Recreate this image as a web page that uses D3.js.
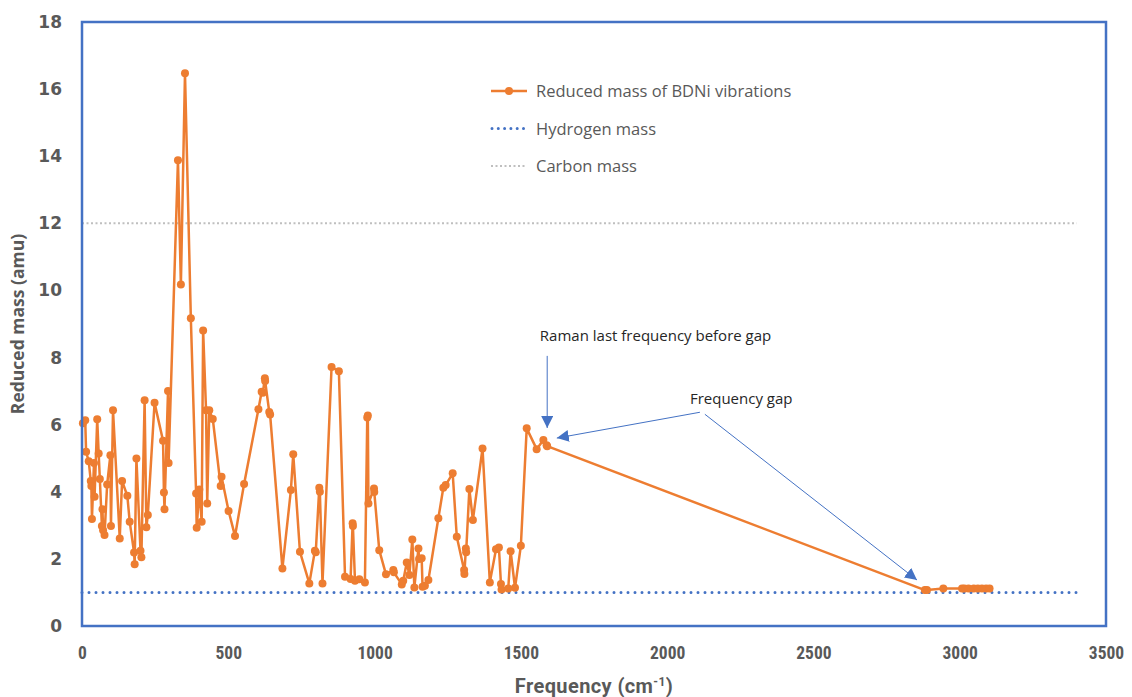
<!DOCTYPE html>
<html>
<head>
<meta charset="utf-8">
<script src="https://cdn.jsdelivr.net/npm/d3@7"></script>
<style>
  body { margin: 0; background: #fff; }
  .tick text { fill: #595959; font-weight: bold; }
</style>
</head>
<body>
<div id="chart"></div>
<script>
// frequencies (cm-1) and reduced masses (amu)
const freq = [3, 11, 14, 23, 30, 32, 34, 41, 43, 52, 57, 61, 68, 70, 72, 77, 86, 97, 99, 106,
    129, 137, 155, 163, 178, 180, 186, 200, 203, 214, 220, 225, 248, 277, 280, 282, 294, 296,
    328, 338, 352, 372, 390, 392, 401, 409, 414, 424, 428, 435, 447, 474, 477, 501, 523, 554,
    603, 614, 618, 625, 626, 640, 643, 685, 714, 722, 745, 777, 796, 799, 811, 813, 822, 853,
    878, 899, 918, 925, 926, 933, 948, 967, 975, 977, 979, 998, 999, 1016, 1039, 1064, 1066,
    1093, 1098, 1110, 1119, 1129, 1136, 1150, 1152, 1161, 1164, 1172, 1184, 1218, 1235, 1243,
    1267, 1281, 1306, 1307, 1312, 1313, 1324, 1336, 1369, 1394, 1415, 1425, 1432, 1434, 1457,
    1465, 1480, 1500, 1520, 1554, 1577, 1588, 1590,
    2881, 2888, 2944, 3008, 3016, 3030, 3048, 3062, 3076, 3090, 3102]
const mass = [6.04, 6.13, 5.19, 4.91, 4.32, 4.17, 3.19, 4.86, 3.85, 6.16, 5.14, 4.38, 2.98, 3.48, 2.85, 2.71, 4.22, 5.09, 2.98, 6.43,
    2.61, 4.32, 3.88, 3.11, 2.19, 1.84, 4.99, 2.24, 2.05, 6.73, 2.94, 3.31, 6.65, 5.52, 3.98, 3.48, 7.0, 4.86,
    13.88, 10.18, 16.47, 9.17, 3.95, 2.93, 4.07, 3.11, 8.81, 6.43, 3.65, 6.43, 6.17, 4.17, 4.45, 3.43, 2.68, 4.23,
    6.46, 6.98, 6.95, 7.38, 7.3, 6.38, 6.3, 1.71, 4.05, 5.12, 2.21, 1.27, 2.24, 2.2, 4.12, 4.0, 1.27, 7.72,
    7.59, 1.47, 1.40, 3.06, 2.98, 1.35, 1.39, 1.30, 6.21, 6.27, 3.65, 4.10, 3.99, 2.26, 1.54, 1.67, 1.60,
    1.24, 1.35, 1.89, 1.52, 2.58, 1.15, 2.31, 2.0, 2.02, 1.17, 1.2, 1.37, 3.21, 4.12, 4.2,
    4.55, 2.66, 1.67, 1.55, 2.31, 2.2, 4.08, 3.16, 5.29, 1.30, 2.29, 2.34, 1.25, 1.09, 1.12,
    2.23, 1.14, 2.39, 5.89, 5.27, 5.54, 5.39, 5.36,
    1.07, 1.07, 1.12, 1.12, 1.12, 1.12, 1.12, 1.12, 1.12, 1.12, 1.12]

// reference lines
const refSpan = [0, 3400]
const hydrogenMass = 1.0
const carbonMass = 12.0

const xTicks = [0, 500, 1000, 1500, 2000, 2500, 3000, 3500]
const yTicks = [0, 2, 4, 6, 8, 10, 12, 14, 16, 18]

const legendLabels = ["Reduced mass of BDNi vibrations", "Hydrogen mass", "Carbon mass"]

// annotations: text anchor and arrows [from, to] in data units
const notes = [
    {text: "Raman last frequency before gap", f: 1565, m: 8.5},
    {text: "Frequency gap", f: 2078, m: 6.63}
]
const arrows = [
    [[1590, 8.05], [1590, 5.9]],
    [[2112, 6.37], [1623, 5.6]],
    [[2129, 6.31], [2854, 1.37]]
]

const data = freq.map((f, i) => ({f: f, m: mass[i]}))

const orange = "#ED7D31"
const blue = "#4472C4"

const margin = {top: 22, right: 26, bottom: 71, left: 82}
const width = 1132 - margin.left - margin.right
const height = 697 - margin.top - margin.bottom

const root = d3.select("#chart").append("svg")
        .attr("width", 1132)
        .attr("height", 697)
        .style("font-family", "'Open Sans', sans-serif")

const svg = root.append("g")
        .attr("transform", "translate(" + margin.left + "," + margin.top + ")")

const xScale = d3.scaleLinear().domain([0, 3500]).range([0, width])
const yScale = d3.scaleLinear().domain([0, 18]).range([height, 0])

// axes (no lines, just labels)
const xGroup = svg.append("g")
        .attr("transform", `translate(0, ${height})`)
        .call(d3.axisBottom(xScale).tickValues(xTicks).tickSize(0).tickPadding(21).tickFormat(d3.format("d")))
xGroup.select(".domain").remove()
xGroup.selectAll("text")
        .style("font-family", "'Liberation Sans Narrow', 'Roboto Condensed', Roboto, sans-serif")
        .style("font-size", "17.5px")

const yGroup = svg.append("g")
        .call(d3.axisLeft(yScale).tickValues(yTicks).tickSize(0).tickPadding(20))
yGroup.select(".domain").remove()
yGroup.selectAll("text")
        .style("font-family", "'DejaVu Sans', sans-serif")
        .style("font-size", "17px")

// axis titles
root.append("text")
        .attr("transform", `translate(24, ${margin.top + height / 2}) rotate(-90)`)
        .attr("text-anchor", "middle")
        .attr("fill", "#595959")
        .style("font-size", "17.5px")
        .style("font-weight", "bold")
        .text("Reduced mass (amu)")

const xTitle = root.append("text")
        .attr("x", 594)
        .attr("y", 693)
        .attr("text-anchor", "middle")
        .attr("fill", "#595959")
        .style("font-family", "Roboto, sans-serif")
        .style("font-size", "20px")
        .style("font-weight", "bold")
        .style("letter-spacing", "0.4px")
xTitle.append("tspan").text("Frequency (cm")
xTitle.append("tspan").attr("dy", -7).style("font-size", "12px").text("-1")
xTitle.append("tspan").attr("dy", 7).text(")")

// reference lines
svg.append("line")
        .attr("x1", xScale(refSpan[0])).attr("x2", xScale(refSpan[1]))
        .attr("y1", yScale(carbonMass)).attr("y2", yScale(carbonMass))
        .attr("stroke", "#BFBFBF")
        .attr("stroke-width", 2)
        .attr("stroke-dasharray", "2 2.5")

svg.append("line")
        .attr("x1", xScale(refSpan[0])).attr("x2", xScale(refSpan[1]))
        .attr("y1", yScale(hydrogenMass)).attr("y2", yScale(hydrogenMass))
        .attr("stroke", blue)
        .attr("stroke-width", 3)
        .attr("stroke-linecap", "round")
        .attr("stroke-dasharray", "0 7")

// series
const line = d3.line()
        .x(d => xScale(d.f))
        .y(d => yScale(d.m))

svg.append("path")
        .datum(data)
        .attr("fill", "none")
        .attr("stroke", orange)
        .attr("stroke-width", 2.5)
        .attr("stroke-linejoin", "round")
        .attr("d", line)

svg.append("g")
    .selectAll("circle")
    .data(data)
    .join("circle")
        .attr("cx", d => xScale(d.f))
        .attr("cy", d => yScale(d.m))
        .attr("r", 4)
        .attr("fill", orange)

// plot frame
svg.append("rect")
        .attr("x", 0).attr("y", 0)
        .attr("width", width).attr("height", height)
        .attr("fill", "none")
        .attr("stroke", blue)
        .attr("stroke-width", 2.5)

// arrow heads
root.append("defs").append("marker")
        .attr("id", "head")
        .attr("viewBox", "0 0 10 10")
        .attr("refX", 10).attr("refY", 5)
        .attr("markerWidth", 12).attr("markerHeight", 12)
        .attr("markerUnits", "userSpaceOnUse")
        .attr("orient", "auto")
    .append("path")
        .attr("d", "M0,0 L10,5 L0,10 Z")
        .attr("fill", blue)

svg.append("g")
    .selectAll("line")
    .data(arrows)
    .join("line")
        .attr("x1", d => xScale(d[0][0])).attr("y1", d => yScale(d[0][1]))
        .attr("x2", d => xScale(d[1][0])).attr("y2", d => yScale(d[1][1]))
        .attr("stroke", blue)
        .attr("stroke-width", 1)
        .attr("marker-end", "url(#head)")

svg.append("g")
    .selectAll("text")
    .data(notes)
    .join("text")
        .attr("x", d => xScale(d.f))
        .attr("y", d => yScale(d.m))
        .attr("fill", "#262626")
        .style("font-size", "15px")
        .text(d => d.text)

// legend
const legend = root.append("g").attr("transform", "translate(491, 91)")
const rowGap = 37.5

legend.append("line")
        .attr("x1", 0).attr("x2", 36).attr("y1", 0).attr("y2", 0)
        .attr("stroke", orange).attr("stroke-width", 2.5)
legend.append("circle")
        .attr("cx", 18).attr("cy", 0).attr("r", 4).attr("fill", orange)

legend.append("line")
        .attr("x1", 1).attr("x2", 33).attr("y1", rowGap).attr("y2", rowGap)
        .attr("stroke", blue).attr("stroke-width", 3)
        .attr("stroke-linecap", "round").attr("stroke-dasharray", "0 6.3")

legend.append("line")
        .attr("x1", 0).attr("x2", 36).attr("y1", rowGap * 2).attr("y2", rowGap * 2)
        .attr("stroke", "#BFBFBF").attr("stroke-width", 2)
        .attr("stroke-dasharray", "2 2.5")

legend.selectAll("text.lbl")
    .data(legendLabels)
    .join("text")
        .attr("class", "lbl")
        .attr("x", 45)
        .attr("y", (d, i) => i * rowGap + 6)
        .attr("fill", "#595959")
        .style("font-size", "16.5px")
        .text(d => d)
</script>
</body>
</html>
